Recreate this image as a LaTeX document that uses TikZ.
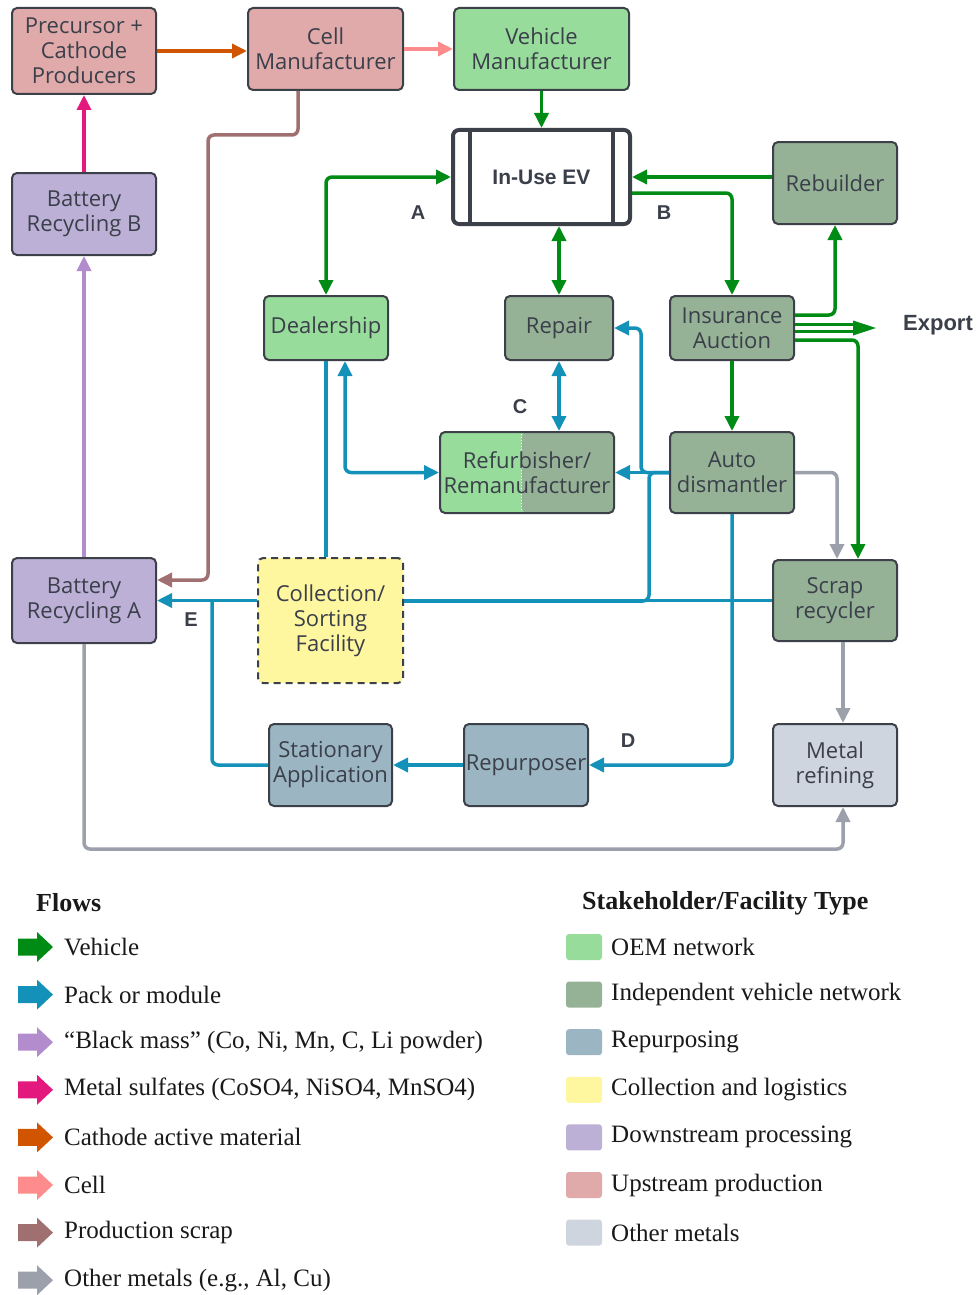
\documentclass[tikz,border=0pt]{standalone}
\usepackage{fontspec}
\setmainfont{Liberation Serif}
\newfontfamily\boxfont{Open Sans}
\newfontfamily\labfont{Liberation Sans}
\usetikzlibrary{arrows.meta,calc}
\definecolor{vehgreen}{RGB}{0,140,20}
\definecolor{packblue}{RGB}{20,145,185}
\definecolor{bmassc}{RGB}{178,140,204}
\definecolor{sulfc}{RGB}{228,25,125}
\definecolor{cathc}{RGB}{209,84,0}
\definecolor{cellc}{RGB}{255,140,140}
\definecolor{pscrapc}{RGB}{160,112,112}
\definecolor{othgray}{RGB}{155,160,170}
\definecolor{oemc}{RGB}{152,220,155}
\definecolor{indc}{RGB}{150,178,150}
\definecolor{repc}{RGB}{155,182,194}
\definecolor{colc}{RGB}{255,246,160}
\definecolor{downc}{RGB}{188,176,214}
\definecolor{upc}{RGB}{224,170,170}
\definecolor{othc}{RGB}{206,213,222}
\definecolor{bordc}{RGB}{60,64,72}
\definecolor{textc}{RGB}{58,63,74}
\definecolor{legtext}{RGB}{25,25,25}
\tikzset{
  sz/.style 2 args={minimum width=#1,minimum height=#2},
  box/.style={draw=bordc, line width=2pt, rounded corners=5pt, text=textc, align=center,
    font=\boxfont\fontsize{22pt}{25pt}\selectfont, inner sep=0pt},
  evbox/.style={draw=bordc, line width=4pt, rounded corners=6pt, fill=white, text=textc,
    font=\labfont\bfseries\fontsize{21pt}{25pt}\selectfont, sz={177pt}{94pt}},
  flow/.style={line width=3.5pt, rounded corners=6pt},
  veh/.style={flow, draw=vehgreen},
  pack/.style={flow, draw=packblue},
  othm/.style={flow, draw=othgray},
  arr/.style={-{Triangle[length=15pt,width=14pt]}},
  arrb/.style={{Triangle[length=15pt,width=14pt]}-{Triangle[length=15pt,width=14pt]}},
  lab/.style={text=textc, font=\labfont\bfseries\fontsize{20pt}{24pt}\selectfont, inner sep=0pt},
  legh/.style={text=legtext, font=\bfseries\fontsize{26pt}{30pt}\selectfont, inner sep=0pt},
  legt/.style={text=legtext, font=\fontsize{25pt}{30pt}\selectfont, inner sep=0pt},
}
\begin{document}
\begin{tikzpicture}[x=1pt,y=-1pt]
\useasboundingbox (0,0) rectangle (977,1295);
% ---------- nodes ----------
\node[box, fill=upc, sz={144pt}{86pt}] (prec) at (84,51) {Precursor +\\Cathode\\Producers};
\node[box, fill=upc, sz={155pt}{82pt}] (cell) at (325.5,49) {Cell\\Manufacturer};
\node[box, fill=oemc, sz={175pt}{82pt}] (vman) at (541.5,49) {Vehicle\\Manufacturer};
\node[evbox] (ev) at (541.5,177) {In-Use EV};
\draw[bordc, line width=4pt] ([xshift=19pt]ev.north west) -- ([xshift=19pt]ev.south west);
\draw[bordc, line width=4pt] ([xshift=-19pt]ev.north east) -- ([xshift=-19pt]ev.south east);
\node[box, fill=indc, sz={124pt}{82pt}] (rebuild) at (835,183) {Rebuilder};
\node[box, fill=downc, sz={144pt}{82pt}] (brb) at (84,214) {Battery\\Recycling B};
\node[box, fill=oemc, sz={124pt}{64pt}] (deal) at (326,328) {Dealership};
\node[box, fill=indc, sz={108pt}{64pt}] (repair) at (559,328) {Repair};
\node[box, fill=indc, sz={124pt}{64pt}] (insur) at (732,328) {Insurance\\Auction};
\node[box, fill=oemc, sz={174pt}{81pt},
  path picture={
    \fill[indc] ($(path picture bounding box.south west)!0.471!(path picture bounding box.south east)$) rectangle (path picture bounding box.north east);
    \draw[white, dotted, line width=1pt] ($(path picture bounding box.south west)!0.471!(path picture bounding box.south east)$) -- ($(path picture bounding box.north west)!0.471!(path picture bounding box.north east)$);
  }] (refurb) at (527,472.5) {Refurbisher/\\Remanufacturer};
\node[box, fill=indc, sz={124pt}{81pt}] (autod) at (732,472.5) {Auto\\dismantler};
\node[box, fill=downc, sz={144pt}{85pt}] (bra) at (84,600.5) {Battery\\Recycling A};
\node[box, fill=colc, dash pattern=on 7pt off 5pt, sz={145pt}{125pt}] (coll) at (330.5,620.5) {Collection/\\Sorting\\Facility};
\node[box, fill=indc, sz={124pt}{81pt}] (scrap) at (835,600.5) {Scrap\\recycler};
\node[box, fill=repc, sz={123pt}{82pt}] (stat) at (330.5,765) {Stationary\\Application};
\node[box, fill=repc, sz={124pt}{82pt}] (repurp) at (526,765) {Repurposer};
\node[box, fill=othc, sz={124pt}{82pt}] (metal) at (835,765) {Metal\\refining};
\node[lab, font=\labfont\bfseries\fontsize{22pt}{26pt}\selectfont] (export) at (938,325) {Export};
% labels
\node[lab] (lA) at (418,213) {A};
\node[lab] (lB) at (664,213) {B};
\node[lab] (lC) at (520,407) {C};
\node[lab] (lD) at (628,741) {D};
\node[lab] (lE) at (191,620) {E};
% ---------- coordinates ----------
\coordinate (c135) at (208,135);
\coordinate (exA) at (853,324.7);
\coordinate (exB) at (853,331.3);
\coordinate (exT) at (876,328);
\coordinate (g1) at (843,849);
\coordinate (b1) at (641,472.5);
\coordinate (b2) at (649,601);
\coordinate (b3) at (212,600.5);
% ---------- connectors ----------
\draw[flow, draw=cathc, arr] (prec.east) -- (prec.east -| cell.west);
\draw[flow, draw=cellc, arr] (cell.east) -- (cell.east -| vman.west);
\draw[veh, arr] (vman.south) -- (ev.north);
\draw[flow, draw=pscrapc, arr] ([xshift=-27.5pt]cell.south) |- (c135) |- ([yshift=20.5pt]bra.east);
\draw[flow, draw=sulfc, arr] (brb.north) -- (prec.south);
\draw[flow, draw=bmassc, arr] (bra.north) -- (brb.south);
\draw[veh, arrb] (deal.north) |- (ev.west);
\draw[veh, arr] (rebuild.west |- ev.east) -- (ev.east);
\draw[veh, arr] ([yshift=-16pt]ev.east) -| (insur.north);
\draw[veh, arrb] (ev.south -| repair.north) -- (repair.north);
\draw[veh, arr] ([yshift=13pt]insur.east) -| (rebuild.south);
\draw[veh] (insur.east |- exA) -- (exA);
\draw[veh] (insur.east |- exB) -- (exB);
\fill[vehgreen] (exT) -- ++(-23,-7.5) -- ++(0,15) -- cycle;
\draw[veh, arr] (insur.south) -- (autod.north);
\draw[veh, arr] ([yshift=-12pt]insur.east) -| ([xshift=23pt]scrap.north);
\draw[othm, arr] (autod.east) -| ([xshift=2pt]scrap.north);
\draw[othm, arr] ([xshift=8pt]scrap.south) -- ([xshift=8pt]metal.north);
\draw[othm, arr] (bra.south) |- (g1) -- ([xshift=8pt]metal.south);
\draw[pack, arrb] (repair.south) -- (repair.south |- refurb.north);
\draw[pack, arrb] ([xshift=19pt]deal.south) |- (refurb.west);
\draw[pack] (deal.south) -- (deal.south |- coll.north);
\draw[pack, arr] (autod.west) -- (refurb.east);
\draw[pack, arr] (autod.west) -- (b1) |- (repair.east);
\draw[pack] (autod.west) -| (b2) -- (coll.east |- b2);
\draw[pack, line width=2.5pt] (scrap.west) -- (coll.east |- scrap.west);
\draw[pack, arr] (coll.west |- bra.east) -- (bra.east);
\draw[pack, arr] (autod.south) |- (repurp.east);
\draw[pack, arr] (repurp.west) -- (stat.east);
\draw[pack] (stat.west) -| (b3);
% ---------- legend ----------
\node[legh, anchor=west] (flows) at (36,903) {Flows};
\node[legh, anchor=west] (stk) at (582,903) {Stakeholder/Facility Type};
\foreach \c/\t [count=\i from 0] in {vehgreen/Vehicle, packblue/Pack or module,
  bmassc/{“Black mass” (Co, Ni, Mn, C, Li powder)}, sulfc/{Metal sulfates (CoSO4, NiSO4, MnSO4)},
  cathc/Cathode active material, cellc/Cell, pscrapc/Production scrap, othgray/{Other metals (e.g., Al, Cu)}}{
  \pgfmathsetmacro\yy{947+47.6*\i}
  \fill[\c] (18,\yy-8.5) -- (37,\yy-8.5) -- (37,\yy-15) -- (53,\yy) -- (37,\yy+15) -- (37,\yy+8.5) -- (18,\yy+8.5) -- cycle;
  \node[legt, anchor=west] (fl\i) at (64,\yy) {\t};
}
\foreach \c/\t [count=\i from 0] in {oemc/OEM network, indc/Independent vehicle network, repc/Repurposing,
  colc/Collection and logistics, downc/Downstream processing, upc/Upstream production, othc/Other metals}{
  \pgfmathsetmacro\yy{947+47.6*\i}
  \fill[\c, rounded corners=3pt] (566,\yy-13) rectangle (602,\yy+13);
  \node[legt, anchor=west] (st\i) at (611,\yy) {\t};
}
\end{tikzpicture}
\end{document}
